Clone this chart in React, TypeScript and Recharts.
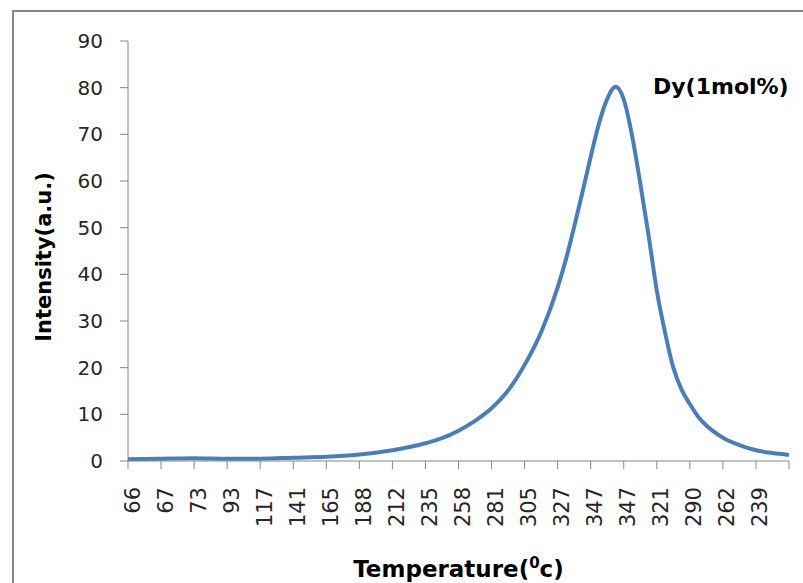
import React from "react";
import { LineChart, Line, XAxis, YAxis, Label } from "recharts";

// x-axis labels (temperature readings shown every 4th reading)
const tempLabels = [
  "66", "67", "73", "93", "117", "141", "165", "188", "212", "235",
  "258", "281", "305", "327", "347", "347", "321", "290", "262", "239",
];

// reading number of each sampled point
const readings = [
  0, 4, 8, 12, 16, 20, 24, 28, 32, 36,
  38, 40, 42, 44, 46, 48, 50, 52, 53, 54, 55, 56,
  57, 58, 59, 60, 61, 62, 63, 64, 65,
  66, 67, 68, 69, 70, 72, 74, 76, 78, 80,
];

// TL intensity (a.u.)
const intensity = [
  0.4, 0.5, 0.6, 0.5, 0.5, 0.7, 0.9, 1.4, 2.3, 3.8,
  4.9, 6.5, 8.6, 11.3, 15.1, 20.6, 27.6, 37.2, 43.2, 50.2, 57.6, 65.2,
  72.3, 77.6, 80.2, 77.5, 69.8, 59.5, 48.4, 36.5, 27.5,
  20, 15.3, 12.2, 9.5, 7.6, 5.0, 3.4, 2.3, 1.7, 1.3,
];

const yTicks = [0, 10, 20, 30, 40, 50, 60, 70, 80, 90];
const xTicks = [0, 4, 8, 12, 16, 20, 24, 28, 32, 36, 40, 44, 48, 52, 56, 60, 64, 68, 72, 76, 80];

const data = readings.map((r, i) => ({ r, v: intensity[i] }));

const FONT = "'DejaVu Sans', sans-serif";
const AXIS = "#868686";
const TEXT = "#262626";

const XTick = (props: any) => {
  const { x, y, payload } = props;
  const label = tempLabels[payload.value / 4] ?? "";
  return (
    <text
      x={x}
      y={y}
      dy={11.5}
      transform={`rotate(-90 ${x} ${y})`}
      textAnchor="end"
      fontFamily={FONT}
      fontSize={21}
      fill={TEXT}
    >
      {label}
    </text>
  );
};

export default function App() {
  return (
    <div
      style={{
        position: "absolute",
        left: 0,
        top: 0,
        width: 803,
        height: 583,
        overflow: "hidden",
        background: "#fff",
      }}
    >
      <div
        style={{
          position: "absolute",
          left: 12,
          top: 10,
          width: 830,
          height: 620,
          border: `2px solid ${AXIS}`,
        }}
      />
      <div style={{ position: "absolute", left: 0, top: 0 }}>
        <LineChart
          width={803}
          height={583}
          data={data}
          margin={{ top: 41, right: 14, bottom: 0, left: 38 }}
        >
          <XAxis
            dataKey="r"
            type="number"
            domain={[0, 80]}
            ticks={xTicks}
            interval={0}
            height={122}
            stroke={AXIS}
            tickSize={8}
            tickMargin={18}
            tick={<XTick />}
          >
            <Label
              content={(p: any) => {
                const vb = p.viewBox;
                return (
                  <text
                    x={vb.x + vb.width / 2}
                    y={vb.y + vb.height - 6}
                    textAnchor="middle"
                    fontFamily={FONT}
                    fontWeight="bold"
                    fontSize={23}
                    fill="#000"
                  >
                    Temperature(
                    <tspan fontSize={15} dy={-9}>0</tspan>
                    <tspan dy={9}>c)</tspan>
                  </text>
                );
              }}
            />
          </XAxis>
          <YAxis
            type="number"
            domain={[0, 90]}
            ticks={yTicks}
            width={90}
            stroke={AXIS}
            tickSize={8}
            tickMargin={17}
            tick={{ fill: TEXT, fontSize: 20, fontFamily: FONT }}
          >
            <Label
              content={(p: any) => {
                const vb = p.viewBox;
                const cx = vb.x + 6;
                const cy = vb.y + vb.height / 2 + 6;
                return (
                  <text
                    x={cx}
                    y={cy}
                    transform={`rotate(-90 ${cx} ${cy})`}
                    textAnchor="middle"
                    dominantBaseline="central"
                    fontFamily={FONT}
                    fontWeight="bold"
                    fontSize={21}
                    fill="#000"
                  >
                    Intensity(a.u.)
                  </text>
                );
              }}
            />
          </YAxis>
          <Line
            type="monotone"
            dataKey="v"
            stroke="#4a7ebb"
            strokeWidth={4}
            dot={false}
            isAnimationActive={false}
          />
        </LineChart>
      </div>
      <div
        style={{
          position: "absolute",
          left: 653,
          top: 76,
          fontFamily: FONT,
          fontWeight: "bold",
          fontSize: 22,
          lineHeight: "22px",
          color: "#000",
          whiteSpace: "nowrap",
        }}
      >
        Dy(1mol%)
      </div>
    </div>
  );
}
